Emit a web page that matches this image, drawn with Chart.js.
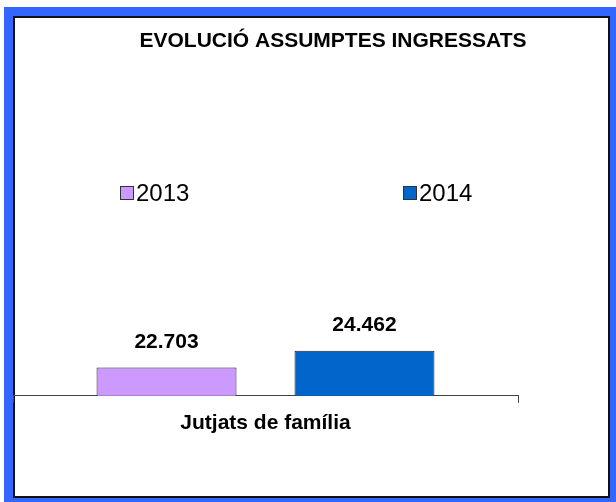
<!DOCTYPE html>
<html>
<head>
<meta charset="utf-8">
<title>Evolució assumptes ingressats</title>
<script src="https://cdn.jsdelivr.net/npm/chart.js@4"></script>
<style>
  body { margin: 0; background: #fff; }
  .frame { position: absolute; left: 4px; top: 7px; width: 612px; height: 495px; background: #3366ff; }
  .panel { position: absolute; left: 13px; top: 16px; width: 597px; height: 482px; background: #fff;
           border: 2px solid #111; box-sizing: border-box; }
  canvas { position: absolute; left: 0; top: 0; }
</style>
</head>
<body>
<div class="frame"></div>
<div class="panel"></div>
<canvas id="chart" width="616" height="502"></canvas>
<script>
// Chart data
const chartTitle = 'EVOLUCIÓ ASSUMPTES INGRESSATS';
const categories = ['Jutjats de família'];
const seriesNames = ['2013', '2014'];
const values2013 = [22703];
const values2014 = [24462];
const seriesColors = ['#cc99ff', '#0066cc'];

const FONT = '"Liberation Sans", Arial, sans-serif';

// Format with dot as thousands separator
function formatValue(v) {
  return String(v).replace(/\B(?=(\d{3})+(?!\d))/g, '.');
}

// Value labels above the bars
const valueLabels = {
  id: 'valueLabels',
  afterDatasetsDraw(chart) {
    const ctx = chart.ctx;
    ctx.save();
    ctx.font = 'bold 21px ' + FONT;
    ctx.fillStyle = '#000';
    ctx.textAlign = 'center';
    ctx.textBaseline = 'alphabetic';
    chart.data.datasets.forEach((ds, i) => {
      chart.getDatasetMeta(i).data.forEach((bar, j) => {
        ctx.fillText(formatValue(ds.data[j]), bar.x, bar.y - 20);
      });
    });
    ctx.restore();
  }
};

// Title and legend, placed like the original sheet
const headerAndLegend = {
  id: 'headerAndLegend',
  afterDraw(chart) {
    const ctx = chart.ctx;
    ctx.save();
    ctx.fillStyle = '#000';
    ctx.font = 'bold 21px ' + FONT;
    ctx.textAlign = 'center';
    ctx.textBaseline = 'middle';
    ctx.fillText(chartTitle, 333, 41);

    const legendX = [120, 403];
    ctx.font = '24px ' + FONT;
    ctx.textAlign = 'left';
    chart.data.datasets.forEach((ds, i) => {
      const x = legendX[i];
      ctx.fillStyle = ds.backgroundColor;
      ctx.fillRect(x, 186, 13, 13);
      ctx.strokeStyle = '#333';
      ctx.lineWidth = 1;
      ctx.strokeRect(x + 0.5, 186.5, 13, 13);
      ctx.fillStyle = '#000';
      ctx.fillText(ds.label, x + 16, 194);
    });
    ctx.restore();
  }
};

const ctx = document.getElementById('chart').getContext('2d');
new Chart(ctx, {
  type: 'bar',
  data: {
    labels: categories,
    datasets: [
      {
        label: seriesNames[0],
        data: values2013,
        backgroundColor: seriesColors[0],
        borderColor: '#222',
        borderWidth: 1
      },
      {
        label: seriesNames[1],
        data: values2014,
        backgroundColor: seriesColors[1],
        borderColor: '#222',
        borderWidth: 1
      }
    ]
  },
  options: {
    responsive: false,
    animation: false,
    layout: {
      padding: { left: 13, right: 98, top: 230, bottom: 58 }
    },
    datasets: {
      bar: {
        categoryPercentage: 0.784,
        barPercentage: 0.707
      }
    },
    plugins: {
      legend: { display: false },
      title: { display: false },
      tooltip: { enabled: false }
    },
    scales: {
      x: {
        grid: {
          display: true,
          drawOnChartArea: false,
          drawTicks: true,
          tickLength: 7,
          color: '#444',
          offset: true
        },
        border: { display: true, color: '#444', width: 1 },
        ticks: {
          color: '#000',
          padding: 8,
          font: { family: FONT, size: 21, weight: 'bold' }
        }
      },
      y: {
        display: false,
        min: 19720,
        max: 37210
      }
    }
  },
  plugins: [valueLabels, headerAndLegend]
});
</script>
</body>
</html>
